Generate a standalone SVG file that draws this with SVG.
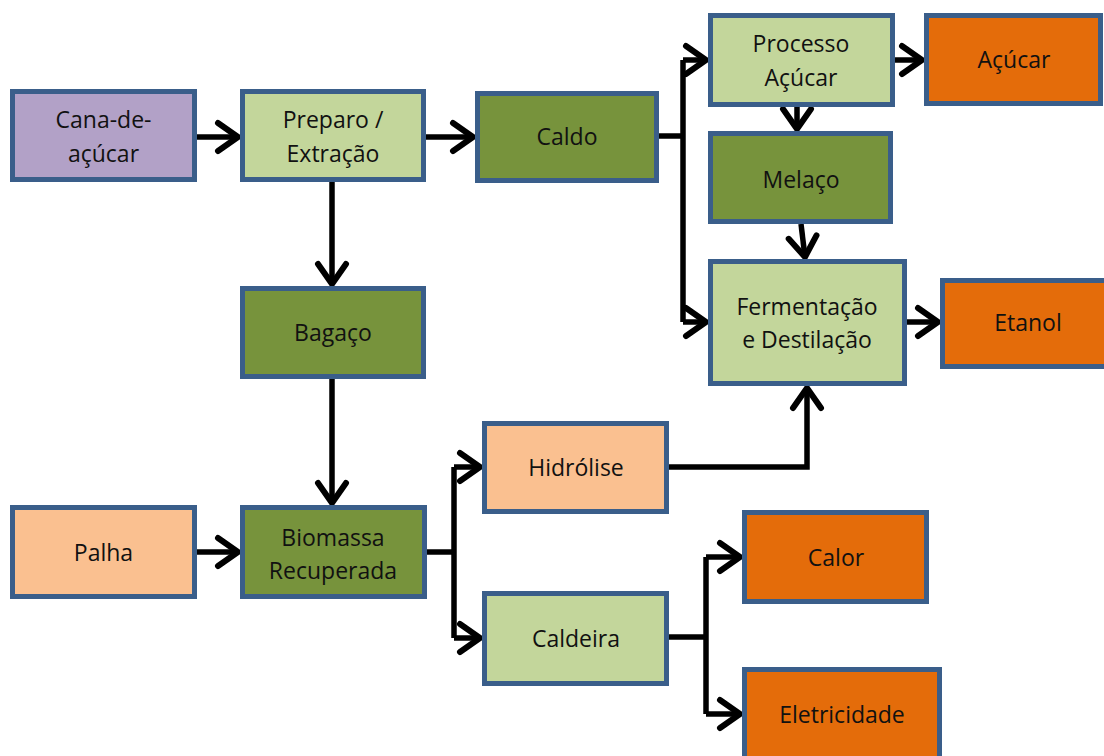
<svg xmlns="http://www.w3.org/2000/svg" width="1104" height="756" viewBox="0 0 1104 756">
<style>
.b{stroke:#3A5E8A;stroke-width:5}
.pu{fill:#B2A1C7}.lg{fill:#C3D69B}.dg{fill:#77933C}.pe{fill:#FAC090}.or{fill:#E46C0A}
text{font-family:"Open Sans","Liberation Sans",sans-serif;font-size:23px;fill:#111;text-anchor:middle;dominant-baseline:central}
.c{fill:none;stroke:#000;stroke-width:5.5;stroke-linejoin:miter}
</style>
<defs>
<marker id="ah" markerUnits="userSpaceOnUse" viewBox="-26 -18 32 36" markerWidth="32" markerHeight="36" refX="0" refY="0" orient="auto" overflow="visible">
<path d="M-20 -14 L0 0 L-20 14" fill="none" stroke="#000" stroke-width="6" stroke-linecap="round" stroke-linejoin="round"/>
</marker>
</defs>
<rect width="1104" height="756" fill="#fff"/>
<g id="connectors">
<path class="c" d="M197 137 H238" marker-end="url(#ah)"/>
<path class="c" d="M425 137 H473" marker-end="url(#ah)"/>
<path class="c" d="M332 182 V284" marker-end="url(#ah)"/>
<path class="c" d="M332 379 V503" marker-end="url(#ah)"/>
<path class="c" d="M196 552 H238" marker-end="url(#ah)"/>
<path class="c" d="M658 136 H683"/>
<path class="c" d="M683 60 V322"/>
<path class="c" d="M683 60 H706" marker-end="url(#ah)"/>
<path class="c" d="M683 322 H706" marker-end="url(#ah)"/>
<path class="c" d="M895 60 H922" marker-end="url(#ah)"/>
<path class="c" d="M797 107 V129" marker-end="url(#ah)"/>
<path class="c" d="M801 224 L805 257" marker-end="url(#ah)"/>
<path class="c" d="M907 322 H938" marker-end="url(#ah)"/>
<path class="c" d="M427 552 H454"/>
<path class="c" d="M454 467 V638"/>
<path class="c" d="M454 467 H480" marker-end="url(#ah)"/>
<path class="c" d="M454 638 H480" marker-end="url(#ah)"/>
<path class="c" d="M669 467 H807 V388" marker-end="url(#ah)"/>
<path class="c" d="M669 637 H706"/>
<path class="c" d="M706 557 V714"/>
<path class="c" d="M706 557 H740" marker-end="url(#ah)"/>
<path class="c" d="M706 714 H740" marker-end="url(#ah)"/>
</g>
<g id="cana"><rect class="b pu" x="12.5" y="91.5" width="182" height="88"/><text x="103.5" y="119">Cana-de-</text><text x="103.5" y="153">açúcar</text></g>
<g id="preparo"><rect class="b lg" x="242.5" y="91.5" width="181" height="88"/><text x="333" y="119">Preparo /</text><text x="333" y="153">Extração</text></g>
<g id="caldo"><rect class="b dg" x="477.5" y="93.5" width="179" height="87"/><text x="567" y="136">Caldo</text></g>
<g id="processo"><rect class="b lg" x="710.5" y="15.5" width="182" height="89"/><text x="801" y="43">Processo</text><text x="801" y="77">Açúcar</text></g>
<g id="acucar"><rect class="b or" x="926.5" y="15.5" width="174" height="88"/><text x="1014" y="59">Açúcar</text></g>
<g id="melaco"><rect class="b dg" x="710.5" y="133.5" width="180" height="88"/><text x="801" y="179">Melaço</text></g>
<g id="fermentacao"><rect class="b lg" x="710.5" y="261.5" width="194" height="122"/><text x="807" y="306">Fermentação</text><text x="807" y="339">e Destilação</text></g>
<g id="etanol"><rect class="b or" x="942.5" y="280.5" width="166" height="86"/><text x="1028" y="322">Etanol</text></g>
<g id="bagaco"><rect class="b dg" x="242.5" y="288.5" width="181" height="88"/><text x="333" y="332">Bagaço</text></g>
<g id="palha"><rect class="b pe" x="12.5" y="507.5" width="182" height="89"/><text x="103.5" y="552">Palha</text></g>
<g id="biomassa"><rect class="b dg" x="242.5" y="507.5" width="182" height="89"/><text x="333" y="537">Biomassa</text><text x="333" y="570">Recuperada</text></g>
<g id="hidrolise"><rect class="b pe" x="484.5" y="423.5" width="182" height="88"/><text x="576" y="467">Hidrólise</text></g>
<g id="caldeira"><rect class="b lg" x="484.5" y="593.5" width="182" height="90"/><text x="576" y="638">Caldeira</text></g>
<g id="calor"><rect class="b or" x="744.5" y="512.5" width="182" height="89"/><text x="836" y="557">Calor</text></g>
<g id="eletricidade"><rect class="b or" x="744.5" y="669.5" width="195" height="92"/><text x="842" y="714">Eletricidade</text></g>
</svg>
